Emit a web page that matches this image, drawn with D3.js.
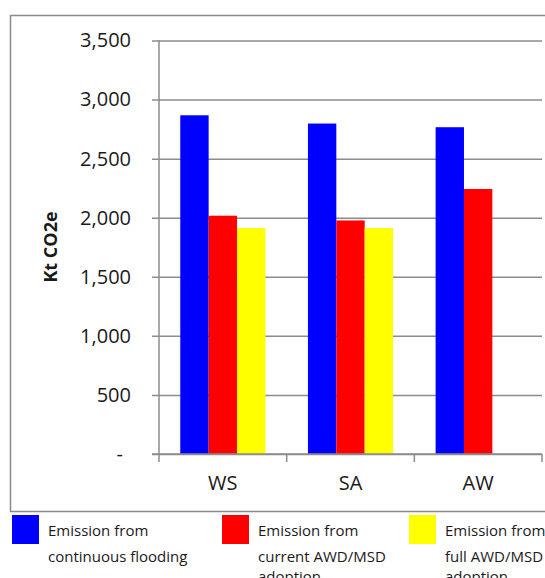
<!DOCTYPE html>
<html><head><meta charset="utf-8">
<script src="https://cdn.jsdelivr.net/npm/d3@7/dist/d3.min.js"></script>
<style>
body{margin:0;background:#fff}
svg{display:block}
text{font-family:"Open Sans",sans-serif;fill:#1a1a1a}
</style>
</head><body><svg id="c" width="545" height="578"></svg>
<script>
const categories = ["WS", "SA", "AW"];
const seriesNames = ["Emission from continuous flooding", "Emission from current AWD/MSD adoption", "Emission from full AWD/MSD adoption"];
const legendLines = [["Emission from", "continuous flooding"], ["Emission from", "current AWD/MSD", "adoption"], ["Emission from", "full AWD/MSD", "adoption"]];
const continuousFlooding = [2867, 2797, 2766];
const currentAdoption = [2017, 1977, 2243];
const fullAdoption = [1912, 1912, null];
const seriesColors = ["#0000ff", "#ff0000", "#ffff00"];
const yTicks = [0, 500, 1000, 1500, 2000, 2500, 3000, 3500];
const yTitle = "Kt CO2e";

const seriesValues = [continuousFlooding, currentAdoption, fullAdoption];
const svg = d3.select("#c");

// frame
svg.append("rect").attr("x", 10.5).attr("y", 15.5).attr("width", 560).attr("height", 496)
  .attr("fill", "none").attr("stroke", "#8a8a8a").attr("stroke-width", 1.5);

const plotL = 159, plotR = 542, plotT = 40.5, plotB = 454;
const x = d3.scaleBand().domain(categories).range([plotL, plotR]).paddingInner(0).paddingOuter(0);
const xs = d3.scaleBand().domain(seriesNames).range([0, x.bandwidth()]).paddingInner(0).paddingOuter(0.75);
const y = d3.scaleLinear().domain([0, 3500]).range([plotB, plotT]);

// gridlines + y labels
const yAxis = d3.axisLeft(y).tickValues(yTicks)
  .tickFormat(d => d === 0 ? "-" : d3.format(",")(d))
  .tickSizeInner(-(plotR - plotL)).tickSizeOuter(0).tickPadding(28);
const gy = svg.append("g").attr("transform", `translate(${plotL},0)`).call(yAxis);
gy.select(".domain").remove();
gy.selectAll(".tick line").attr("x1", -7).attr("stroke", "#8c8c8c").attr("stroke-width", 1.5);
gy.selectAll(".tick text").attr("font-size", 20).attr("fill", "#1a1a1a")
  .attr("font-family", "'Open Sans',sans-serif")
  .attr("dx", d => d === 0 ? -8 : 0);

// bars
categories.forEach((c, i) => {
  seriesNames.forEach((s, j) => {
    const v = seriesValues[j][i];
    if (v == null) return;
    svg.append("rect")
      .attr("x", x(c) + xs(s)).attr("width", xs.bandwidth())
      .attr("y", y(v)).attr("height", y(0) - y(v))
      .attr("fill", seriesColors[j]);
  });
});

// y axis line
svg.append("line").attr("x1", plotL).attr("x2", plotL).attr("y1", plotT).attr("y2", plotB)
  .attr("stroke", "#8c8c8c").attr("stroke-width", 1.5);

// x axis
const xAxis = d3.axisBottom(x).tickSize(0).tickPadding(22);
const gx = svg.append("g").attr("transform", `translate(0,${plotB})`).call(xAxis);
gx.select(".domain").attr("d", `M${plotL - 7},0H${plotR}`).attr("stroke", "#8c8c8c").attr("stroke-width", 1.5);
gx.selectAll(".tick text").attr("font-size", 20).attr("fill", "#1a1a1a").attr("font-family", "'Open Sans',sans-serif");
const bounds = categories.map(c => x(c)).concat([x(categories[categories.length - 1]) + x.bandwidth()]);
gx.selectAll(".bt").data(bounds).enter().append("line")
  .attr("x1", d => d).attr("x2", d => d).attr("y1", 0).attr("y2", 8)
  .attr("stroke", "#8c8c8c").attr("stroke-width", 1.5);

// y title
svg.append("text").attr("transform", "translate(57,247) rotate(-90)")
  .attr("text-anchor", "middle").attr("font-size", 18).attr("font-weight", "bold")
  .text(yTitle);

// legend
const legX = [12, 222, 409];
const lineDy = [0, 26, 46];
seriesNames.forEach((s, j) => {
  const g = svg.append("g");
  g.append("rect").attr("x", legX[j]).attr("y", 515).attr("width", 27).attr("height", 29).attr("fill", seriesColors[j]);
  legendLines[j].forEach((t, k) => {
    g.append("text").attr("x", legX[j] + 36).attr("y", 536 + lineDy[k]).attr("font-size", 15).text(t);
  });
});
</script>
</body></html>
